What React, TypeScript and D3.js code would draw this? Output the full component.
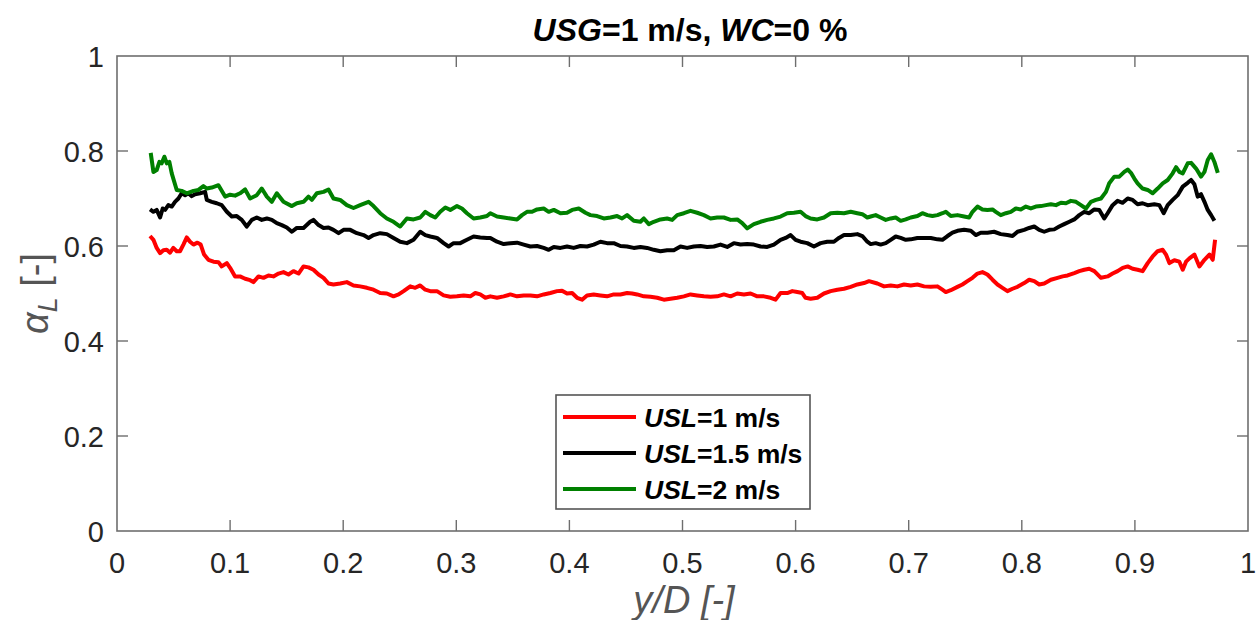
import React, { useEffect, useRef } from "react";
import * as d3 from "d3";

// ---- Data ----
const xTicks = [0, 0.1, 0.2, 0.3, 0.4, 0.5, 0.6, 0.7, 0.8, 0.9, 1];
const yTicks = [0, 0.2, 0.4, 0.6, 0.8, 1];

const greenX = [0.0298,0.0322,0.0351,0.0375,0.0395,0.0419,0.0440,0.0463,0.0484,0.0528,0.0572,0.0617,0.0676,0.0720,0.0764,0.0794,0.0838,0.0897,0.0956,0.1000,0.1044,0.1088,0.1133,0.1177,0.1236,0.1280,0.1325,0.1369,0.1413,0.1472,0.1546,0.1590,0.1649,0.1693,0.1723,0.1767,0.1826,0.1870,0.1914,0.1973,0.2032,0.2091,0.2150,0.2224,0.2268,0.2327,0.2386,0.2445,0.2504,0.2563,0.2622,0.2681,0.2726,0.2770,0.2814,0.2858,0.2903,0.2947,0.3006,0.3050,0.3094,0.3153,0.3212,0.3271,
0.3301,0.3360,0.3419,0.3478,0.3537,0.3581,0.3625,0.3670,0.3714,0.3773,0.3817,0.3862,0.3921,0.3979,0.4024,0.4083,0.4142,0.4186,0.4245,0.4304,0.4363,0.4422,0.4466,0.4510,0.4569,0.4628,0.4658,0.4702,0.4746,0.4805,0.4864,0.4909,0.4953,0.5012,0.5071,0.5130,0.5189,0.5248,0.5307,0.5366,0.5425,0.5484,0.5528,0.5572,0.5631,0.5690,0.5749,0.5808,0.5867,0.5926,0.5985,0.6044,0.6088,0.6133,0.6192,0.6251,0.6310,0.6369,0.6428,0.6487,0.6546,0.6590,0.6634,
0.6664,0.6708,0.6752,0.6797,0.6841,0.6885,0.6929,0.6974,0.7018,0.7077,0.7121,0.7166,0.7210,0.7254,0.7298,0.7328,0.7372,0.7431,0.7490,0.7534,0.7564,0.7608,0.7652,0.7696,0.7741,0.7770,0.7814,0.7859,0.7903,0.7947,0.7991,0.8036,0.8080,0.8124,0.8169,0.8213,0.8257,0.8302,0.8346,0.8390,0.8434,0.8479,0.8523,0.8567,0.8611,0.8655,0.8700,0.8744,0.8773,0.8818,0.8862,0.8906,0.8936,0.8965,0.8995,0.9024,0.9068,0.9113,0.9157,0.9201,0.9246,0.9290,0.9334,0.9364,0.9393,0.9423,0.9467,0.9497,0.9541,0.9585,0.9615,0.9644,0.9674,0.9703,0.9733];
const greenY = [0.796,0.756,0.760,0.777,0.774,0.788,0.774,0.777,0.753,0.718,0.716,0.711,0.716,0.718,0.726,0.721,0.723,0.728,0.704,0.708,0.706,0.711,0.719,0.700,0.707,0.721,0.704,0.693,0.711,0.693,0.684,0.690,0.693,0.704,0.697,0.711,0.714,0.719,0.700,0.697,0.686,0.680,0.686,0.693,0.684,0.669,0.658,0.651,0.641,0.658,0.656,0.660,0.672,0.665,0.660,0.672,0.681,0.676,0.684,0.679,0.669,0.658,0.660,0.663,
0.669,0.662,0.660,0.658,0.656,0.665,0.672,0.672,0.677,0.679,0.672,0.676,0.669,0.670,0.676,0.679,0.670,0.665,0.663,0.658,0.660,0.663,0.658,0.665,0.653,0.651,0.658,0.646,0.651,0.656,0.658,0.655,0.665,0.669,0.674,0.670,0.665,0.658,0.660,0.660,0.655,0.656,0.648,0.637,0.646,0.651,0.655,0.658,0.662,0.669,0.670,0.672,0.663,0.658,0.656,0.660,0.669,0.670,0.669,0.672,0.669,0.667,0.660,
0.662,0.665,0.660,0.655,0.658,0.660,0.653,0.656,0.660,0.663,0.669,0.665,0.663,0.665,0.669,0.672,0.663,0.665,0.662,0.660,0.672,0.683,0.677,0.676,0.677,0.672,0.665,0.669,0.672,0.679,0.677,0.683,0.679,0.683,0.684,0.686,0.688,0.686,0.691,0.690,0.695,0.693,0.686,0.679,0.693,0.697,0.700,0.714,0.732,0.746,0.746,0.756,0.761,0.754,0.742,0.732,0.721,0.718,0.711,0.721,0.732,0.739,0.753,0.766,0.756,0.753,0.774,0.775,0.763,0.746,0.756,0.781,0.793,0.777,0.754];

const blackX = [0.0292,0.0322,0.0351,0.0381,0.0404,0.0425,0.0454,0.0484,0.0513,0.0543,0.0572,0.0602,0.0631,0.0661,0.0690,0.0735,0.0779,0.0794,0.0838,0.0882,0.0926,0.0971,0.1015,0.1059,0.1103,0.1147,0.1192,0.1236,0.1280,0.1325,0.1369,0.1413,0.1457,0.1501,0.1546,0.1590,0.1649,0.1708,0.1737,0.1782,0.1826,0.1870,0.1914,0.1959,0.2003,0.2062,0.2121,0.2180,0.2224,0.2268,0.2327,0.2386,0.2445,0.2504,0.2563,0.2622,0.2681,0.2726,0.2770,0.2829,0.2888,0.2932,0.2976,0.3035,0.3094,0.3153,0.3212,0.3271,
0.3301,0.3360,0.3419,0.3478,0.3537,0.3596,0.3655,0.3714,0.3773,0.3817,0.3862,0.3921,0.3979,0.4038,0.4097,0.4156,0.4215,0.4274,0.4333,0.4392,0.4451,0.4510,0.4569,0.4628,0.4687,0.4746,0.4805,0.4864,0.4923,0.4982,0.5041,0.5100,0.5159,0.5218,0.5277,0.5336,0.5395,0.5454,0.5513,0.5572,0.5631,0.5690,0.5749,0.5808,0.5867,0.5912,0.5956,0.6000,0.6044,0.6103,0.6162,0.6221,0.6280,0.6339,0.6383,0.6428,0.6487,0.6546,0.6590,0.6634,
0.6664,0.6708,0.6752,0.6797,0.6841,0.6885,0.6929,0.6974,0.7018,0.7077,0.7136,0.7195,0.7254,0.7298,0.7343,0.7387,0.7431,0.7490,0.7549,0.7593,0.7637,0.7696,0.7755,0.7814,0.7873,0.7918,0.7962,0.8021,0.8065,0.8110,0.8154,0.8198,0.8243,0.8287,0.8331,0.8375,0.8420,0.8464,0.8508,0.8552,0.8596,0.8641,0.8685,0.8729,0.8759,0.8803,0.8847,0.8892,0.8936,0.8980,0.9024,0.9068,0.9113,0.9172,0.9216,0.9255,0.9290,0.9334,0.9378,0.9423,0.9467,0.9497,0.9526,0.9555,0.9585,0.9615,0.9644,0.9674,0.9703];
const blackY = [0.677,0.672,0.676,0.660,0.679,0.676,0.686,0.683,0.693,0.700,0.711,0.707,0.711,0.705,0.709,0.711,0.714,0.697,0.693,0.690,0.686,0.672,0.662,0.663,0.655,0.641,0.655,0.660,0.655,0.658,0.655,0.648,0.644,0.639,0.630,0.638,0.638,0.651,0.655,0.644,0.638,0.639,0.634,0.627,0.634,0.634,0.627,0.623,0.617,0.623,0.627,0.625,0.617,0.609,0.606,0.613,0.630,0.623,0.620,0.617,0.606,0.599,0.606,0.606,0.613,0.620,0.618,0.617,
0.617,0.609,0.604,0.606,0.607,0.603,0.599,0.600,0.596,0.592,0.598,0.596,0.599,0.596,0.600,0.599,0.603,0.609,0.606,0.606,0.600,0.599,0.596,0.598,0.596,0.592,0.589,0.591,0.591,0.599,0.596,0.599,0.600,0.598,0.599,0.603,0.598,0.606,0.603,0.604,0.603,0.599,0.598,0.603,0.613,0.617,0.623,0.613,0.609,0.606,0.599,0.606,0.609,0.609,0.617,0.623,0.623,0.625,0.621,0.609,
0.604,0.606,0.603,0.606,0.613,0.620,0.617,0.613,0.614,0.617,0.617,0.617,0.614,0.613,0.621,0.628,0.632,0.634,0.632,0.623,0.628,0.628,0.630,0.625,0.623,0.621,0.630,0.634,0.638,0.641,0.634,0.630,0.634,0.635,0.641,0.646,0.651,0.656,0.665,0.672,0.669,0.677,0.676,0.658,0.669,0.686,0.695,0.691,0.700,0.697,0.688,0.690,0.686,0.688,0.686,0.669,0.686,0.697,0.707,0.725,0.733,0.739,0.730,0.704,0.709,0.693,0.676,0.665,0.653];

const redX = [0.0292,0.0322,0.0351,0.0381,0.0410,0.0440,0.0469,0.0498,0.0528,0.0557,0.0587,0.0617,0.0646,0.0676,0.0711,0.0740,0.0770,0.0808,0.0853,0.0897,0.0926,0.0971,0.1000,0.1044,0.1088,0.1133,0.1177,0.1206,0.1251,0.1295,0.1339,0.1383,0.1428,0.1472,0.1516,0.1560,0.1605,0.1649,0.1693,0.1737,0.1782,0.1826,0.1870,0.1914,0.1973,0.2032,0.2091,0.2150,0.2209,0.2268,0.2327,0.2386,0.2445,0.2490,0.2534,0.2593,0.2637,0.2681,0.2726,0.2770,0.2829,0.2888,0.2947,0.3006,0.3065,0.3124,0.3168,0.3212,0.3257,
0.3301,0.3360,0.3419,0.3478,0.3537,0.3596,0.3655,0.3714,0.3773,0.3832,0.3891,0.3935,0.3979,0.4024,0.4068,0.4112,0.4156,0.4215,0.4274,0.4333,0.4392,0.4451,0.4510,0.4555,0.4599,0.4658,0.4717,0.4776,0.4835,0.4894,0.4953,0.5012,0.5071,0.5130,0.5189,0.5248,0.5307,0.5366,0.5425,0.5484,0.5543,0.5602,0.5661,0.5720,0.5779,0.5823,0.5867,0.5926,0.5971,0.6015,0.6059,0.6088,0.6133,0.6192,0.6251,0.6310,0.6369,0.6428,0.6487,0.6546,0.6605,0.6649,
0.6723,0.6782,0.6841,0.6900,0.6959,0.7018,0.7077,0.7136,0.7195,0.7254,0.7298,0.7328,0.7372,0.7431,0.7475,0.7519,0.7564,0.7608,0.7652,0.7696,0.7741,0.7785,0.7829,0.7873,0.7918,0.7962,0.8021,0.8065,0.8110,0.8154,0.8198,0.8257,0.8316,0.8361,0.8405,0.8464,0.8508,0.8552,0.8596,0.8641,0.8700,0.8759,0.8803,0.8847,0.8892,0.8936,0.8980,0.9024,0.9068,0.9113,0.9157,0.9201,0.9246,0.9275,0.9305,0.9349,0.9393,0.9423,0.9452,0.9482,0.9526,0.9570,0.9615,0.9659,0.9688,0.9709];
const redY = [0.621,0.613,0.596,0.585,0.591,0.592,0.586,0.596,0.589,0.589,0.603,0.618,0.609,0.603,0.607,0.603,0.582,0.571,0.567,0.566,0.557,0.564,0.554,0.536,0.536,0.531,0.528,0.524,0.536,0.533,0.538,0.536,0.542,0.545,0.540,0.547,0.542,0.557,0.555,0.550,0.540,0.533,0.521,0.519,0.521,0.524,0.517,0.515,0.512,0.508,0.501,0.500,0.494,0.498,0.505,0.515,0.512,0.517,0.508,0.505,0.505,0.496,0.493,0.494,0.496,0.494,0.501,0.498,0.491,
0.494,0.491,0.494,0.498,0.494,0.496,0.496,0.494,0.498,0.501,0.505,0.506,0.500,0.501,0.491,0.487,0.496,0.498,0.496,0.494,0.498,0.498,0.501,0.500,0.498,0.494,0.493,0.491,0.487,0.489,0.491,0.494,0.498,0.496,0.494,0.493,0.494,0.498,0.494,0.500,0.498,0.500,0.494,0.494,0.491,0.487,0.501,0.501,0.505,0.503,0.501,0.491,0.489,0.491,0.500,0.505,0.508,0.510,0.514,0.519,0.522,0.526,
0.521,0.515,0.517,0.515,0.519,0.517,0.519,0.515,0.514,0.515,0.508,0.503,0.507,0.514,0.519,0.526,0.533,0.542,0.545,0.540,0.529,0.519,0.512,0.505,0.510,0.514,0.522,0.529,0.526,0.519,0.521,0.529,0.533,0.536,0.538,0.543,0.547,0.550,0.552,0.547,0.533,0.536,0.542,0.547,0.554,0.557,0.552,0.550,0.547,0.564,0.578,0.589,0.592,0.582,0.564,0.570,0.567,0.550,0.567,0.574,0.582,0.557,0.571,0.582,0.571,0.613];

const seriesNames = ["1", "1.5", "2"];
const seriesColors = ["#ff0000", "#000000", "#008000"];

const W = 1258, H = 620;
const M = { left: 117, right: 10, top: 56, bottom: 89 };

export default function App() {
  const ref = useRef<SVGSVGElement>(null);
  useEffect(() => {
    const svg = d3.select(ref.current);
    svg.selectAll("*").remove();
    const x = d3.scaleLinear().domain([0, 1]).range([M.left, W - M.right]);
    const y = d3.scaleLinear().domain([0, 1]).range([H - M.bottom, M.top]);
    const font = "'Liberation Sans', Arial, sans-serif";
    const axisColor = "#6e6e6e";
    const textColor = "#262626";

    const g = svg.append("g");
    g.append("rect").attr("x", x(0)).attr("y", y(1)).attr("width", x(1) - x(0)).attr("height", y(0) - y(1))
      .attr("fill", "white").attr("stroke", axisColor).attr("stroke-width", 1.6);

    const tl = 11;
    xTicks.forEach(t => {
      if (t > 0 && t < 1) {
        g.append("line").attr("x1", x(t)).attr("x2", x(t)).attr("y1", y(0)).attr("y2", y(0) - tl).attr("stroke", axisColor).attr("stroke-width", 1.4);
        g.append("line").attr("x1", x(t)).attr("x2", x(t)).attr("y1", y(1)).attr("y2", y(1) + tl).attr("stroke", axisColor).attr("stroke-width", 1.4);
      }
      g.append("text").attr("x", x(t)).attr("y", y(0) + 42).attr("text-anchor", "middle")
        .attr("font-family", font).attr("font-size", 29).attr("fill", textColor).text(String(t));
    });
    yTicks.forEach(t => {
      if (t > 0 && t < 1) {
        g.append("line").attr("x1", x(0)).attr("x2", x(0) + tl).attr("y1", y(t)).attr("y2", y(t)).attr("stroke", axisColor).attr("stroke-width", 1.4);
        g.append("line").attr("x1", x(1)).attr("x2", x(1) - tl).attr("y1", y(t)).attr("y2", y(t)).attr("stroke", axisColor).attr("stroke-width", 1.4);
      }
      g.append("text").attr("x", x(0) - 13).attr("y", y(t) + 11).attr("text-anchor", "end")
        .attr("font-family", font).attr("font-size", 29).attr("fill", textColor).text(String(t));
    });

    const all = [
      { xs: redX, ys: redY },
      { xs: blackX, ys: blackY },
      { xs: greenX, ys: greenY },
    ];
    const line = d3.line<[number, number]>().x(d => x(d[0])).y(d => y(d[1]));
    all.forEach((s, i) => {
      const pts: [number, number][] = s.xs.map((v, j) => [v, s.ys[j]]);
      g.append("path").attr("d", line(pts) as string).attr("fill", "none")
        .attr("stroke", seriesColors[i]).attr("stroke-width", 4).attr("stroke-linejoin", "round");
    });

    const title = g.append("text").attr("x", 690).attr("y", 41).attr("text-anchor", "middle")
      .attr("font-family", font).attr("font-size", 32).attr("font-weight", "bold").attr("fill", "#000");
    title.append("tspan").attr("font-style", "italic").text("USG");
    title.append("tspan").text("=1 m/s, ");
    title.append("tspan").attr("font-style", "italic").text("WC");
    title.append("tspan").text("=0 %");

    g.append("text").attr("x", 684).attr("y", 613).attr("text-anchor", "middle")
      .attr("font-family", font).attr("font-size", 38).attr("font-style", "italic").attr("fill", "#555")
      .text("y/D [-]");

    const yl = g.append("text").attr("transform", `translate(48, ${(y(0) + y(1)) / 2}) rotate(-90)`)
      .attr("text-anchor", "middle").attr("font-family", font).attr("font-size", 38).attr("fill", "#555");
    yl.append("tspan").attr("font-style", "italic").text("α");
    yl.append("tspan").attr("font-style", "italic").attr("font-size", 27).attr("dy", 9).text("L");
    yl.append("tspan").attr("dy", -9).text(" [-]");

    const lx = 556, ly = 395, lw = 254, lh = 114;
    g.append("rect").attr("x", lx).attr("y", ly).attr("width", lw).attr("height", lh)
      .attr("fill", "white").attr("stroke", "#555").attr("stroke-width", 1.6);
    seriesNames.forEach((n, i) => {
      const cy = ly + 22 + i * 36;
      g.append("line").attr("x1", lx + 7).attr("x2", lx + 80).attr("y1", cy).attr("y2", cy)
        .attr("stroke", seriesColors[i]).attr("stroke-width", 4);
      const t = g.append("text").attr("x", lx + 88).attr("y", cy + 9.5).attr("font-family", font)
        .attr("font-size", 26.5).attr("font-weight", "bold").attr("fill", "#000");
      t.append("tspan").attr("font-style", "italic").text("USL");
      t.append("tspan").text(`=${n} m/s`);
    });
  }, []);
  return (
    <svg ref={ref} width={W} height={H} style={{ position: "absolute", left: 0, top: 0, background: "white" }} />
  );
}
